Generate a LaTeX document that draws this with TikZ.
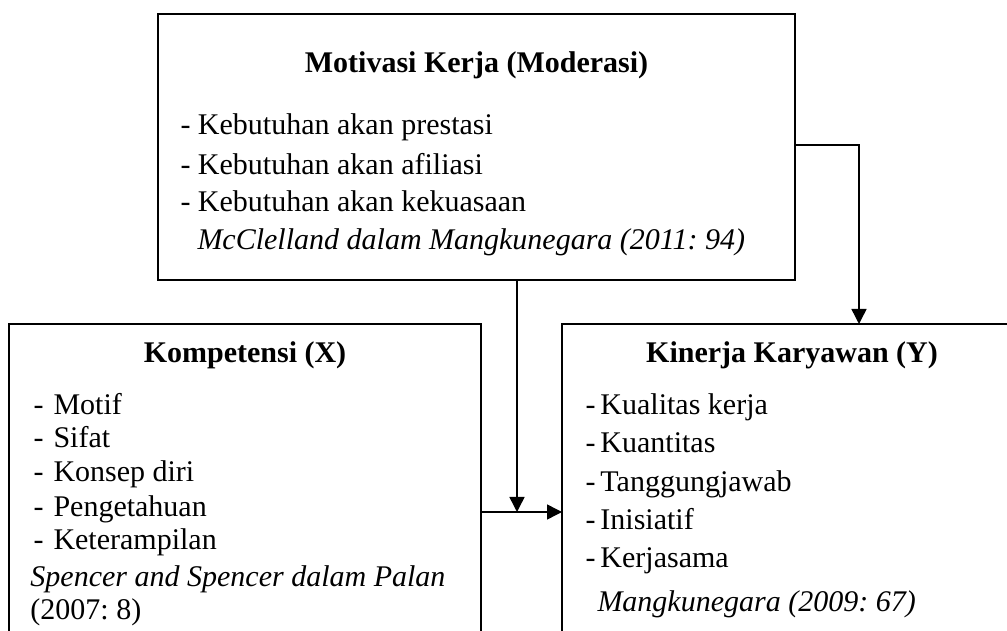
\documentclass[tikz,border=0pt]{standalone}
\usepackage{fontspec}
\setmainfont{Liberation Serif}
\usetikzlibrary{arrows.meta}
\frenchspacing
\tikzset{
  kotak/.style={draw, line width=0.8pt, inner sep=0pt, outer sep=0pt},
  judul/.style={anchor=base, inner sep=0pt, font=\fontsize{12}{14}\selectfont\bfseries},
  isi/.style={anchor=base west, inner sep=0pt, font=\fontsize{12}{14}\selectfont},
  sumber/.style={isi, font=\fontsize{12}{14}\selectfont\itshape},
  panah/.style={line width=0.6pt, -{Triangle[length=6pt,width=6pt]}}
}
\begin{document}
\begin{tikzpicture}[x=0.4pt, y=-0.4pt]

    \clip (0,0) rectangle (1007,631);

    % kotak
    \node[kotak, minimum width=254.8pt, minimum height=106.4pt] (motivasi) at (476.5,147) {};
    \node[kotak, minimum width=188.8pt, minimum height=134.4pt] (kompetensi) at (245,492) {};
    \node[kotak, minimum width=187.2pt, minimum height=134.4pt] (kinerja) at (796,492) {};

    % motivasi kerja
    \node[judul] (m0) at (476.5,73) {Motivasi Kerja (Moderasi)};
    \node[isi] (m1) at (180,135) {- Kebutuhan akan prestasi};
    \node[isi] (m2) at (180,175) {- Kebutuhan akan afiliasi};
    \node[isi] (m3) at (180,212) {- Kebutuhan akan kekuasaan};
    \node[sumber] (m4) at (197,250) {McClelland dalam Mangkunegara (2011: 94)};

    % kompetensi
    \node[judul] (k0) at (245,363) {Kompetensi (X)};
    \node[isi] (k1d) at (33,415) {-};
    \node[isi] (k1) at (53,415) {Motif};
    \node[isi] (k2d) at (33,448) {-};
    \node[isi] (k2) at (53,448) {Sifat};
    \node[isi] (k3d) at (33,482) {-};
    \node[isi] (k3) at (53,482) {Konsep diri};
    \node[isi] (k4d) at (33,517) {-};
    \node[isi] (k4) at (53,517) {Pengetahuan};
    \node[isi] (k5d) at (33,550) {-};
    \node[isi] (k5) at (53,550) {Keterampilan};
    \node[sumber] (k6) at (30,587) {Spencer and Spencer dalam Palan};
    \node[isi] (k7) at (30,620) {(2007: 8)};

    % kinerja karyawan
    \node[judul] (y0) at (792,363) {Kinerja Karyawan (Y)};
    \node[isi] (y1) at (585,415) {-\,Kualitas kerja};
    \node[isi] (y2) at (585,453) {-\,Kuantitas};
    \node[isi] (y3) at (585,492) {-\,Tanggungjawab};
    \node[isi] (y4) at (585,530) {-\,Inisiatif};
    \node[isi] (y5) at (585,568) {-\,Kerjasama};
    \node[sumber] (y6) at (597,612) {Mangkunegara (2009: 67)};

    % panah
    \coordinate (belok) at (859,145);
    \coordinate (temu) at (517,512);
    \draw[panah] (motivasi.east |- belok) -| (kinerja.north -| belok);
    \draw[panah] (motivasi.south -| temu) -- (temu);
    \draw[panah] (kompetensi.east |- temu) -- (kinerja.west |- temu);

\end{tikzpicture}
\end{document}
